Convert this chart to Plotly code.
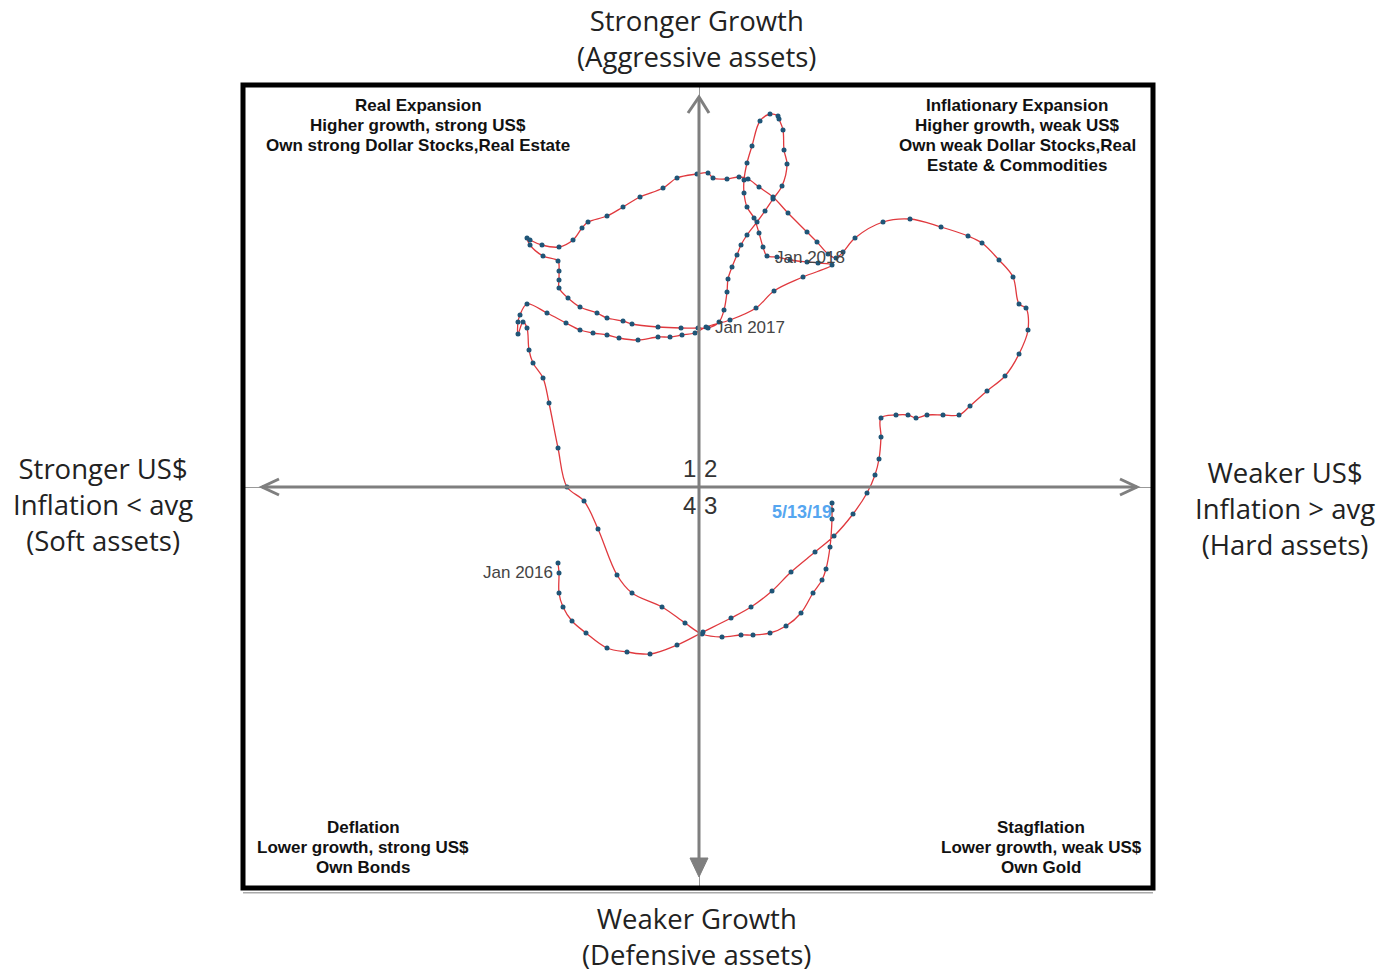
import plotly.graph_objects as go

# Weekly path: x = US$ / inflation score (right = weaker US$), y = growth score
usd_score = [
    -1.41, -1.40, -1.40, -1.36, -1.27, -1.13, -0.92, -0.72, -0.49, -0.22,
    0.04, 0.32, 0.52, 0.73, 0.92, 1.16, 1.35, 1.54, 1.68, 1.76,
    1.80, 1.82, 1.82, 1.97, 2.09, 2.17, 2.28, 2.44, 2.60, 2.71,
    2.88, 3.06, 3.20, 3.29, 3.27, 3.20, 3.14, 3.00, 2.83, 2.69,
    2.42, 2.11, 1.84, 1.56, 1.44, 1.37,
    1.29, 1.18, 1.08, 0.89, 0.74, 0.60, 0.49, 0.40, 0.28, 0.14,
    0.09, -0.02, -0.22, -0.36, -0.59, -0.76, -0.92, -1.11, -1.17, -1.26,
    -1.40, -1.57, -1.69, -1.72, -1.69, -1.56, -1.41, -1.40, -1.40, -1.40,
    -1.31, -1.19, -1.02, -0.92, -0.76, -0.67, -0.41, -0.18, -0.01, 0.09,
    0.20,
    0.25, 0.28, 0.29, 0.33, 0.38, 0.42, 0.48, 0.58, 0.66, 0.74,
    0.83, 0.88, 0.85, 0.84, 0.80, 0.79, 0.71, 0.61, 0.53, 0.48,
    0.45, 0.45, 0.48, 0.55, 0.60, 0.64, 0.68, 0.78, 0.91, 1.08,
    1.19, 1.33,
    1.04, 0.75, 0.57, 0.31, 0.07,
    -0.04, -0.17, -0.29, -0.41, -0.61, -0.80, -0.92, -1.06, -1.19, -1.33,
    -1.52, -1.72, -1.79, -1.81, -1.81, -1.76, -1.72, -1.70, -1.66, -1.56,
    -1.50, -1.41, -1.32, -1.15, -1.01, -0.82, -0.67, -0.37, -0.14, 0.03,
    0.23, 0.42, 0.54, 0.71, 0.87, 1.02, 1.14, 1.23, 1.27, 1.31,
    1.33, 1.33, 1.33,
]
growth_score = [
    -0.76, -0.86, -1.06, -1.20, -1.34, -1.46, -1.61, -1.65, -1.67, -1.58,
    -1.45, -1.31, -1.20, -1.04, -0.85, -0.65, -0.49, -0.27, -0.06, 0.12,
    0.28, 0.50, 0.69, 0.72, 0.72, 0.69, 0.72, 0.72, 0.72, 0.81,
    0.96, 1.11, 1.33, 1.57, 1.79, 1.83, 2.10, 2.27, 2.44, 2.51,
    2.60, 2.68, 2.65, 2.49, 2.35, 2.29,
    2.33, 2.45, 2.55, 2.74, 2.90, 3.00, 3.08, 3.10, 3.08, 3.09,
    3.14, 3.13, 3.09, 2.99, 2.90, 2.80, 2.71, 2.65, 2.59, 2.47,
    2.40, 2.42, 2.47, 2.49, 2.42, 2.31, 2.26, 2.16, 2.07, 1.99,
    1.89, 1.80, 1.74, 1.69, 1.66, 1.63, 1.60, 1.59, 1.59, 1.59,
    1.65,
    1.77, 1.95, 2.08, 2.20, 2.32, 2.42, 2.52, 2.65, 2.76, 2.88,
    3.01, 3.23, 3.37, 3.57, 3.68, 3.71, 3.73, 3.66, 3.41, 3.24,
    3.07, 2.94, 2.80, 2.69, 2.54, 2.40, 2.31, 2.30, 2.27, 2.25,
    2.24, 2.22,
    2.10, 1.96, 1.79, 1.67, 1.60,
    1.54, 1.52, 1.50, 1.50, 1.47, 1.49, 1.52, 1.54, 1.57, 1.64,
    1.74, 1.83, 1.72, 1.65, 1.53, 1.65, 1.59, 1.37, 1.24, 1.09,
    0.84, 0.39, 0.00, -0.14, -0.42, -0.88, -1.06, -1.20, -1.36, -1.47,
    -1.50, -1.48, -1.48, -1.46, -1.39, -1.26, -1.06, -0.93, -0.82, -0.60,
    -0.32, -0.23, -0.16,
]

date_labels = ["Jan 2016", "Jan 2017", "Jan 2018", "5/13/19"]
date_pos = [(-1.44, -0.85), (0.14, 1.60), (0.74, 2.30), (0.71, -0.25)]

quadrant_titles = {
    "tl": ["Real Expansion", "Higher growth, strong US$", "Own strong Dollar Stocks,Real Estate"],
    "tr": ["Inflationary Expansion", "Higher growth, weak US$", "Own weak Dollar Stocks,Real", "Estate & Commodities"],
    "bl": ["Deflation", "Lower growth, strong US$", "Own Bonds"],
    "br": ["Stagflation", "Lower growth, weak US$", "Own Gold"],
}
outer_labels = {
    "top": ["Stronger Growth", "(Aggressive assets)"],
    "bottom": ["Weaker Growth", "(Defensive assets)"],
    "left": ["Stronger US$", "Inflation < avg", "(Soft assets)"],
    "right": ["Weaker US$", "Inflation > avg", "(Hard assets)"],
}
quadrant_numbers = ["1", "2", "3", "4"]

fig = go.Figure()
fig.add_trace(go.Scatter(
    x=usd_score, y=growth_score, mode="lines+markers",
    line=dict(color="#e0393e", width=1.3, shape="spline", smoothing=1.0),
    marker=dict(color="#1f5577", size=5),
    hoverinfo="skip", showlegend=False,
))

AX = "#7f7f7f"
shapes = []
# thick axis lines
shapes.append(dict(type="line", x0=-4.37, x1=4.38, y0=0, y1=0, line=dict(color=AX, width=3)))
shapes.append(dict(type="line", x0=0, x1=0, y0=-3.80, y1=3.90, line=dict(color=AX, width=3)))
# arrowheads
shapes.append(dict(type="path", path="M -0.11,3.74 L 0,3.90 L 0.10,3.74", line=dict(color=AX, width=3)))
shapes.append(dict(type="path", path="M -0.09,-3.71 L 0.09,-3.71 L 0,-3.90 Z", line=dict(color=AX, width=1), fillcolor=AX))
shapes.append(dict(type="path", path="M -4.20,0.08 L -4.37,0 L -4.20,-0.08", line=dict(color=AX, width=3)))
shapes.append(dict(type="path", path="M 4.21,0.08 L 4.38,0 L 4.21,-0.08", line=dict(color=AX, width=3)))
# frame
shapes.append(dict(type="rect", xref="paper", yref="paper", x0=0, x1=1, y0=0, y1=1,
                   line=dict(color="#000", width=5)))
shapes.append(dict(type="line", xref="paper", yref="paper", x0=0, x1=1, y0=-0.006, y1=-0.006,
                   line=dict(color="#aaa", width=1.5)))

ann = []
def txt(x, y, s, size, color, family, bold=False, xanchor="center", yanchor="middle", ref="data"):
    d = dict(x=x, y=y, text=(f"<b>{s}</b>" if bold else s), showarrow=False,
             xanchor=xanchor, yanchor=yanchor,
             font=dict(size=size, color=color, family=family))
    if ref == "paper":
        d.update(xref="paper", yref="paper")
    ann.append(d)

OUT_F = "Open Sans"
OUT_C = "#222"
OUT_S = 27.5
txt(0.4989, 1.0579, "<br>".join(outer_labels["top"]), OUT_S, OUT_C, OUT_F, ref="paper")
txt(0.4989, -0.0610, "<br>".join(outer_labels["bottom"]), OUT_S, OUT_C, OUT_F, ref="paper")
txt(-0.1538, 0.4770, "<br>".join(outer_labels["left"]), OUT_S, OUT_C, OUT_F, ref="paper")
txt(1.1451, 0.4732, "<br>".join(outer_labels["right"]), OUT_S, OUT_C, OUT_F, ref="paper")

QF = "Liberation Sans"
top_rows = [3.82, 3.62, 3.42, 3.22]
bot_rows = [-3.40, -3.60, -3.80]
for s, y in zip(quadrant_titles["tl"], top_rows):
    txt(-2.81, y, s, 17, "#111", QF, bold=True)
for s, y in zip(quadrant_titles["tr"], top_rows):
    txt(3.18, y, s, 17, "#111", QF, bold=True)
for s, y in zip(quadrant_titles["bl"], bot_rows):
    txt(-3.36, y, s, 17, "#111", QF, bold=True)
for s, y in zip(quadrant_titles["br"], bot_rows):
    txt(3.42, y, s, 17, "#111", QF, bold=True)

num_pos = [(-0.10, 0.19), (0.11, 0.19), (0.11, -0.18), (-0.10, -0.18)]
for s, (x, y) in zip(quadrant_numbers, num_pos):
    txt(x, y, s, 24, "#333", QF)

for i, (s, (x, y)) in enumerate(zip(date_labels, date_pos)):
    if i == 3:
        txt(x, y, s, 18, "#55a6f0", QF, bold=True, xanchor="left")
    elif i == 0:
        txt(x, y, s, 17, "#444", QF, xanchor="right")
    else:
        txt(x, y, s, 17, "#444", QF, xanchor="left")

fig.update_layout(
    width=1381, height=974,
    margin=dict(l=243, r=228, t=85, b=86),
    paper_bgcolor="white", plot_bgcolor="white",
    xaxis=dict(range=[-4.56, 4.54], showgrid=False, showticklabels=False, ticks="",
               zeroline=True, zerolinecolor="#999", zerolinewidth=1, fixedrange=True),
    yaxis=dict(range=[-4.01, 4.02], showgrid=False, showticklabels=False, ticks="",
               zeroline=True, zerolinecolor="#999", zerolinewidth=1, fixedrange=True),
    shapes=shapes, annotations=ann,
)
fig.write_html("out.html", post_script="document.body.style.margin='0';",
               config={"displayModeBar": False})
